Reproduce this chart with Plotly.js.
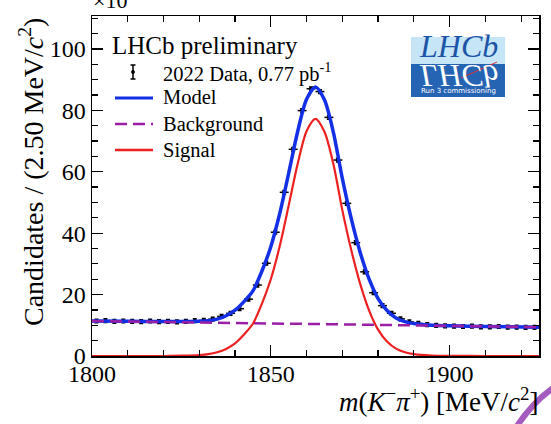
<!DOCTYPE html>
<html><head><meta charset="utf-8">
<script src="https://cdn.plot.ly/plotly-3.0.1.min.js"></script>
<style>html,body{margin:0;padding:0;background:#fff;}</style>
</head><body>
<div id="chart" style="width:551px;height:424px;"></div>
<script>
// Data points (bin centres, MeV/c^2) and candidates (x10^3)
const dataX = [1801.25,1803.75,1806.25,1808.75,1811.25,1813.75,1816.25,1818.75,1821.25,1823.75,
  1826.25,1828.75,1831.25,1833.75,1836.25,1838.75,1841.25,1843.75,1846.25,1848.75,
  1851.25,1853.75,1856.25,1858.75,1861.25,1863.75,1866.25,1868.75,1871.25,1873.75,
  1876.25,1878.75,1881.25,1883.75,1886.25,1888.75,1891.25,1893.75,1896.25,1898.75,
  1901.25,1903.75,1906.25,1908.75,1911.25,1913.75,1916.25,1918.75,1921.25,1923.75];
const dataY = [11.4,11.5,11.3,11.4,11.3,11.2,11.4,11.2,11.3,11.1,
  11.3,11.5,11.6,12.0,12.9,13.9,15.4,18.5,23.1,30.2,
  40.3,53.3,67.3,79.9,87.0,86.1,77.7,63.8,49.7,36.9,
  27.4,20.6,16.4,13.9,12.1,11.1,10.6,10.2,10.0,9.8,
  9.7,9.6,9.7,9.5,9.5,9.6,9.4,9.4,9.3,9.3];

// Curves
const curveX = [1800,1810,1820,1825,1830,1832.5,1835,1837.5,1840,1842.5,1845,1847.5,1850,1852.5,1855,1857.5,
  1860,1862.5,1865,1867.5,1870,1872.5,1875,1877.5,1880,1882.5,1885,1887.5,1890,1895,1900,1910,1925];
const modelY = [11.4,11.3,11.2,11.2,11.3,11.5,12.0,13.1,14.9,17.7,21.2,27.6,35.6,46.4,59.5,73.0,
  83.6,87.6,83.4,72.8,57.8,44.7,33.7,25.0,18.7,14.8,12.4,11.2,10.6,10.0,9.85,9.64,9.4];
const signalY = [0,0,0,0.1,0.3,0.6,1.2,2.3,4.1,7.0,10.5,17.0,25.0,35.8,49.0,62.5,
  73.2,77.2,73.0,62.5,47.5,34.5,23.5,14.8,8.6,4.7,2.4,1.2,0.6,0.15,0.04,0,0];
const bkgX = [1800,1850,1888,1925];
const bkgY = [11.4,10.6,10.0,9.4];

const xTicks = [1800,1850,1900];
const yTicks = [0,20,40,60,80,100];
const legendLabels = ['2022 Data, 0.77 pb<sup>-1</sup>','Model','Background','Signal'];

const serif = '"Liberation Serif", "Times New Roman", serif';
const BLUE = '#1430e6', PURPLE = '#9b1fa6', RED = '#ec2020';

const traces = [
  {x:dataX, y:dataY, type:'scatter', mode:'markers', name:legendLabels[0],
   marker:{color:'black', size:4},
   error_x:{type:'constant', value:1.25, color:'black', thickness:1.5, width:0},
   error_y:{type:'constant', value:0.6, color:'black', thickness:1.5, width:2}},
  {x:curveX, y:modelY, type:'scatter', mode:'lines', name:legendLabels[1],
   line:{color:BLUE, width:3.5, shape:'spline', smoothing:0.8}},
  {x:bkgX, y:bkgY, type:'scatter', mode:'lines', name:legendLabels[2],
   line:{color:PURPLE, width:2.5, dash:'12px,6px'}},
  {x:curveX, y:signalY, type:'scatter', mode:'lines', name:legendLabels[3],
   line:{color:RED, width:2.2, shape:'spline', smoothing:0.8}},
  // invisible trace to carry the mirrored (top/right) axes
  {x:[1800], y:[0], xaxis:'x2', yaxis:'y2', type:'scatter', mode:'markers',
   marker:{opacity:0}, showlegend:false, hoverinfo:'skip'}
];

const L = 92, T = 16, W = 447, H = 340;
function px(x){return (x-L)/W;}
function py(y){return (T+H-y)/H;}

const axCommon = {ticks:'inside', ticklen:11, tickwidth:1.3, tickcolor:'black',
  showline:true, linecolor:'black', linewidth:1.5, showgrid:false, zeroline:false,
  tickfont:{family:serif, size:24, color:'black'}};

const shapes = [
  // logo
  {type:'rect', xref:'paper', yref:'paper', x0:px(411), x1:px(505), y0:py(37), y1:py(64),
   fillcolor:'#c6e6f7', line:{width:0}, layer:'above'},
  {type:'rect', xref:'paper', yref:'paper', x0:px(411), x1:px(505), y0:py(64), y1:py(97),
   fillcolor:'#2563b3', line:{width:0}, layer:'above'},
  {type:'line', xref:'paper', yref:'paper', x0:px(461), x1:px(497), y0:py(78), y1:py(62),
   line:{color:'#e03030', width:1}, layer:'above'},
  // slide decoration arc
  {type:'path', xref:'paper', yref:'paper',
   path:'M '+px(517)+' '+py(426)+' Q '+px(533)+' '+py(402)+' '+px(553)+' '+py(388),
   line:{color:'#a55bbf', width:6}, layer:'above'},
  // legend symbols
  {type:'line', xref:'paper', yref:'paper', x0:px(133), x1:px(133), y0:py(65), y1:py(79), line:{color:'black', width:1.5}},
  {type:'line', xref:'paper', yref:'paper', x0:px(130.5), x1:px(135.5), y0:py(65), y1:py(65), line:{color:'black', width:1.5}},
  {type:'line', xref:'paper', yref:'paper', x0:px(130.5), x1:px(135.5), y0:py(79), y1:py(79), line:{color:'black', width:1.5}},
  {type:'circle', xref:'paper', yref:'paper', x0:px(131.3), x1:px(134.7), y0:py(70.3), y1:py(73.7), fillcolor:'black', line:{color:'black', width:0.5}},
  {type:'line', xref:'paper', yref:'paper', x0:px(115), x1:px(153), y0:py(98), y1:py(98), line:{color:BLUE, width:3}},
  {type:'line', xref:'paper', yref:'paper', x0:px(115), x1:px(153), y0:py(124), y1:py(124), line:{color:PURPLE, width:2.5, dash:'12px,6px'}},
  {type:'line', xref:'paper', yref:'paper', x0:px(115), x1:px(153), y0:py(150), y1:py(150), line:{color:RED, width:2.5}}
];

const legY = [72, 97, 124, 150];
const legendAnns = legendLabels.map(function(t, i){
  return {text:t, xref:'paper', yref:'paper', x:px(161), y:py(legY[i]), xanchor:'left', yanchor:'middle',
    showarrow:false, font:{family:serif, size:20.5, color:'black'}};
});

const layout = {
  width:551, height:424,
  margin:{l:L, r:551-L-W, t:T, b:424-T-H},
  paper_bgcolor:'white', plot_bgcolor:'white',
  showlegend:false,
  xaxis:Object.assign({}, axCommon, {range:[1800,1925], tickvals:xTicks, ticklabelstandoff:-4,
    minor:{dtick:10, ticks:'inside', ticklen:6, tickcolor:'black', tickwidth:1.2, showgrid:false}}),
  yaxis:Object.assign({}, axCommon, {range:[0,110.7], tickvals:yTicks,
    minor:{dtick:5, ticks:'inside', ticklen:6, tickcolor:'black', tickwidth:1.2, showgrid:false}}),
  xaxis2:Object.assign({}, axCommon, {range:[1800,1925], tickvals:xTicks, overlaying:'x', side:'top',
    anchor:'y2', showticklabels:false,
    minor:{dtick:10, ticks:'inside', ticklen:6, tickcolor:'black', tickwidth:1.2, showgrid:false}}),
  yaxis2:Object.assign({}, axCommon, {range:[0,110.7], tickvals:yTicks, overlaying:'y', side:'right',
    anchor:'x2', showticklabels:false,
    minor:{dtick:5, ticks:'inside', ticklen:6, tickcolor:'black', tickwidth:1.2, showgrid:false}}),
  shapes:shapes,
  annotations:[
    {text:'LHCb preliminary', xref:'paper', yref:'paper', x:px(110), y:py(45), xanchor:'left', yanchor:'middle',
     showarrow:false, font:{family:serif, size:25, color:'black'}},
    {text:'<i>LHCb</i>', xref:'paper', yref:'paper', x:px(458), y:py(66), xanchor:'center', yanchor:'bottom',
     showarrow:false, font:{family:serif, size:32, color:'#1d54a8'}},
    {text:'<i>LHCb</i>', xref:'paper', yref:'paper', x:px(458), y:py(56), xanchor:'center', yanchor:'top',
     showarrow:false, font:{family:serif, size:32, color:'white'}},
    {text:'Run 3 commissioning', xref:'paper', yref:'paper', x:px(458), y:py(91), xanchor:'center', yanchor:'middle',
     showarrow:false, font:{family:'DejaVu Sans, sans-serif', size:7, color:'white'}},
    {text:'×10<sup>3</sup>', xref:'paper', yref:'paper', x:px(91), y:py(15), xanchor:'left', yanchor:'bottom',
     showarrow:false, font:{family:serif, size:22, color:'black'}},
    {text:'Candidates / (2.50 MeV/<i>c</i><sup>2</sup>)', xref:'paper', yref:'paper', x:px(31), y:py(16),
     xanchor:'center', yanchor:'top', textangle:-90, showarrow:false, font:{family:serif, size:28, color:'black'}},
    {text:'<i>m</i>(<i>K</i><sup>−</sup><i>π</i><sup>+</sup>) [MeV/<i>c</i><sup>2</sup>]', xref:'paper', yref:'paper',
     x:px(541), y:py(400), xanchor:'right', yanchor:'middle', showarrow:false, font:{family:serif, size:27, color:'black'}}
  ].concat(legendAnns)
};

Plotly.newPlot('chart', traces, layout, {displayModeBar:false, staticPlot:true}).then(function(gd){
  // mirror the reflected logo text vertically
  const anns = gd.querySelectorAll('.annotation');
  const el = anns[2];
  if (el) {
    const bb = el.getBBox();
    const cy = bb.y + bb.height/2;
    el.setAttribute('transform', 'translate(0,'+(2*cy)+') scale(1,-1)');
  }
});
</script>
</body></html>
